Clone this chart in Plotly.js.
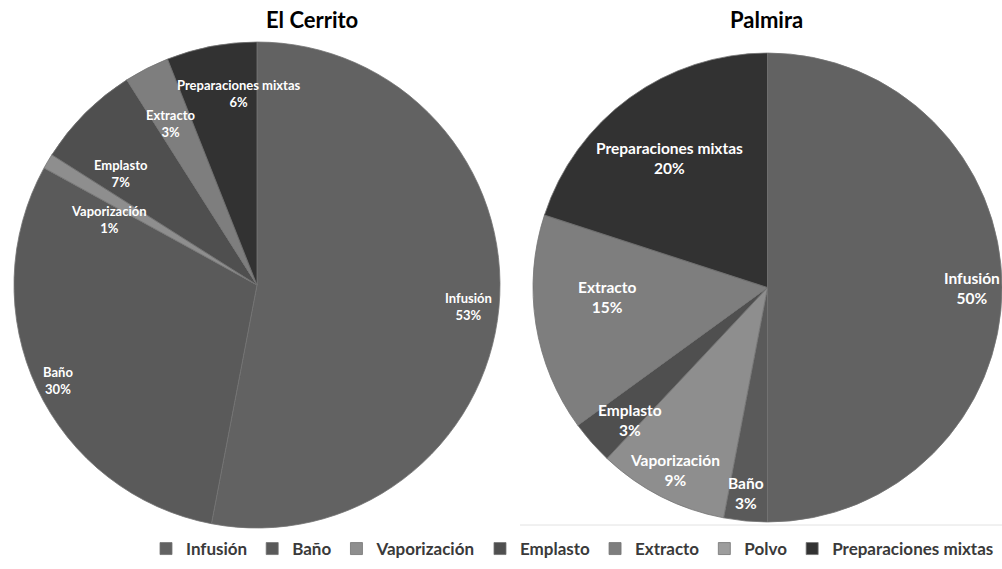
<!DOCTYPE html>
<html><head><meta charset="utf-8">
<script src="https://cdn.plot.ly/plotly-3.0.1.min.js"></script>
<style>html,body{margin:0;padding:0;background:#fff;overflow:hidden}</style>
</head><body>
<div id="chart" style="width:1002px;height:569px"></div>
<script>
const categories = ["Infusión","Baño","Vaporización","Emplasto","Extracto","Polvo","Preparaciones mixtas"];
const elCerritoValues = [53,30,1,7,3,0,6];
const palmiraValues = [50,3,9,3,15,0,20];
const titles = ["El Cerrito","Palmira"];
const colors = ["#626262","#5a5a5a","#8e8e8e","#4f4f4f","#7e7e7e","#9d9d9d","#323232"];

// label block centres in pixels (layout only)
const cerritoLabelPos = [[468,306],[58,380],[109,219],[121,173],[171,124],null,[238,93]];
const palmiraLabelPos = [[972,288],[746,493],[675,470],[630,420],[607,297],null,[669,158]];

const W=1002,H=569;
function px(x){return x/W;} function py(y){return 1-y/H;}

const common = {type:'pie',labels:categories,sort:false,direction:'clockwise',rotation:0,
  textinfo:'none',hoverinfo:'label+percent',marker:{colors:colors,line:{color:'#747474',width:0.8}}};

const data = [
  Object.assign({},common,{values:elCerritoValues,name:titles[0],
    domain:{x:[px(11),px(503)],y:[py(528),py(42)]}}),
  Object.assign({},common,{values:palmiraValues,name:titles[1],
    domain:{x:[px(533),1],y:[py(523),py(52)]}})
];

const annotations = [];
function addLabels(vals,pos,size){
  const tot = vals.reduce((a,b)=>a+b,0);
  vals.forEach((v,i)=>{
    if(!pos[i]||v===0) return;
    annotations.push({xref:'paper',yref:'paper',x:px(pos[i][0]),y:py(pos[i][1]),
      text:categories[i]+'<br>'+Math.round(v/tot*100)+'%',showarrow:false,
      xanchor:'center',yanchor:'middle',align:'center',
      font:{family:'Lato, sans-serif',size:size,color:'#ffffff',weight:'bold'}});
  });
}
addLabels(elCerritoValues,cerritoLabelPos,13);
addLabels(palmiraValues,palmiraLabelPos,15.5);
annotations.push({xref:'paper',yref:'paper',x:px(312),y:py(20),text:titles[0],showarrow:false,
  xanchor:'center',yanchor:'middle',font:{family:'Lato, sans-serif',size:22,color:'#000',weight:'bold'}});
annotations.push({xref:'paper',yref:'paper',x:px(766),y:py(20),text:titles[1],showarrow:false,
  xanchor:'center',yanchor:'middle',font:{family:'Lato, sans-serif',size:22,color:'#000',weight:'bold'}});

const layout = {
  width:W,height:H,margin:{l:0,r:0,t:0,b:0},paper_bgcolor:'#fff',
  showlegend:true,
  legend:{orientation:'h',x:px(146),y:py(531),xanchor:'left',yanchor:'top',
    font:{family:'Lato, sans-serif',size:17,color:'#3a3a3a',weight:'bold'},
    itemwidth:30,tracegroupgap:0,traceorder:'normal'},
  shapes:[{type:'line',xref:'paper',yref:'paper',x0:px(520),x1:1,y0:py(525),y1:py(525),
    line:{color:'#e2e2e2',width:1}}],
  annotations:annotations
};
Plotly.newPlot('chart',data,layout,{displayModeBar:false,staticPlot:true});
</script>
</body></html>
